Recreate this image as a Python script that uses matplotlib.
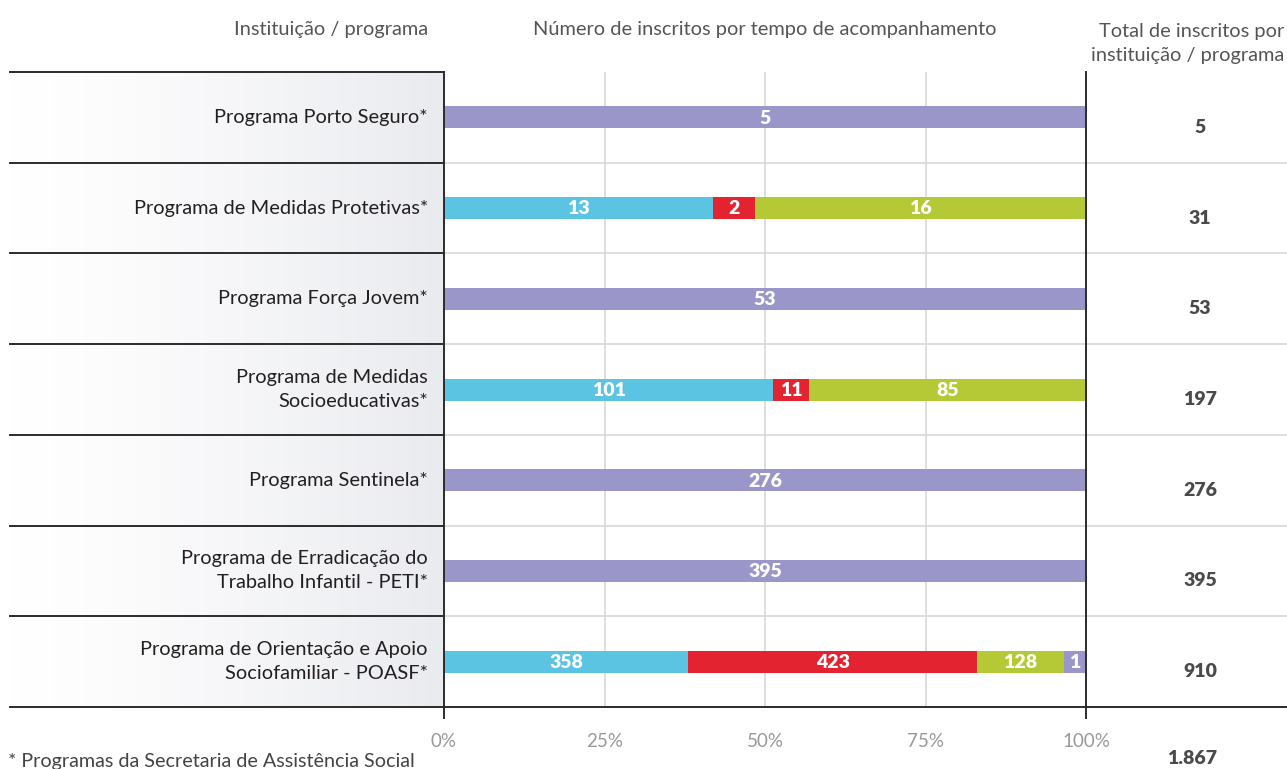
import numpy as np
import matplotlib
matplotlib.use("Agg")
import matplotlib.pyplot as plt

plt.rcParams['font.family'] = ['Lato', 'DejaVu Sans']

programs = [
    "Programa Porto Seguro*",
    "Programa de Medidas Protetivas*",
    "Programa Força Jovem*",
    "Programa de Medidas\nSocioeducativas*",
    "Programa Sentinela*",
    "Programa de Erradicação do\nTrabalho Infantil - PETI*",
    "Programa de Orientação e Apoio\nSociofamiliar - POASF*",
]
seg_cyan = [0, 13, 0, 101, 0, 0, 358]
seg_red = [0, 2, 0, 11, 0, 0, 423]
seg_green = [0, 16, 0, 85, 0, 0, 128]
seg_purple = [5, 0, 53, 0, 276, 395, 1]
totals = [5, 31, 53, 197, 276, 395, 910]
grand_total = "1.867"
tick_vals = [0, 0.25, 0.5, 0.75, 1.0]
tick_labels = ["0%", "25%", "50%", "75%", "100%"]

colors = ["#5bc4e2", "#e42330", "#b4c935", "#9b96c9"]
MIN_SHARE = 0.034

W, H = 1287, 769
fig = plt.figure(figsize=(W / 100, H / 100), dpi=100)
L, R, T, B = 444, 1086, 72, 707
ax = fig.add_axes([L / W, 1 - B / H, (R - L) / W, (B - T) / H])
n = len(programs)
ax.set_xlim(0, 1)
ax.set_ylim(n - 0.5, -0.5)
for s in ax.spines.values():
    s.set_visible(False)
ax.set_yticks([])

def px2x(px):
    return (px - L) / (R - L)

xl, xr = px2x(10), px2x(1287)

# left gradient panel
grad = np.linspace(0, 1, 256)[None, :] ** 1.3
c0 = np.array([1.0, 1.0, 1.0])
c1 = np.array([0xea, 0xeb, 0xef]) / 255
img = c0[None, None, :] * (1 - grad[..., None]) + c1[None, None, :] * grad[..., None]
ax.imshow(img, extent=[xl, 0, n - 0.5, -0.5], aspect='auto', clip_on=False, zorder=0)

# grid lines
for v in tick_vals[1:-1]:
    ax.plot([v, v], [-0.5, n - 0.5], color="#d8d8d8", lw=1.2, zorder=1)
for i in range(n + 1):
    yb = i - 0.5
    ax.plot([xl, 0], [yb, yb], color="#2b2b2b", lw=1.4, clip_on=False, zorder=3)
    if 0 < i < n:
        ax.plot([0, xr], [yb, yb], color="#d8d8d8", lw=1.2, clip_on=False, zorder=1)
ax.plot([0, xr], [n - 0.5, n - 0.5], color="#2b2b2b", lw=1.4, clip_on=False, zorder=3)
ext = n - 0.5 + 11 / ((B - T) / n)
for xv in (0, 1):
    ax.plot([xv, xv], [-0.5, ext], color="#2b2b2b", lw=1.4, clip_on=False, zorder=4)

# bars
segs = np.array([seg_cyan, seg_red, seg_green, seg_purple], dtype=float).T
bh = 22 / ((B - T) / n)
for i in range(n):
    vals = segs[i]
    tot = vals.sum()
    share = vals / tot
    small = (share > 0) & (share < MIN_SHARE)
    if small.any():
        share = np.where(small, MIN_SHARE, share)
        rest = 1 - share[small].sum()
        big = ~small & (vals > 0)
        share[big] = rest * vals[big] / vals[big].sum()
    left = 0
    for j in range(4):
        if vals[j] <= 0:
            continue
        ax.barh(i, share[j], left=left, height=bh, color=colors[j], zorder=2, linewidth=0)
        ax.text(left + share[j] / 2, i + 0.01, f"{int(vals[j])}", ha='center', va='center',
                color='white', fontsize=14, fontweight='heavy', zorder=5)
        left += share[j]
    ax.text(px2x(428), i, programs[i], ha='right', va='center', fontsize=14.4,
            color="#231f20", linespacing=1.5, clip_on=False)
    ax.text(px2x(1200), i + 0.11, f"{totals[i]}", ha='center', va='center', fontsize=14,
            fontweight='heavy', color="#4a4a4a", clip_on=False)

ax.set_xticks(tick_vals)
ax.set_xticklabels(tick_labels, fontsize=13.5, color="#999999")
ax.tick_params(axis='x', length=0, pad=19)

# headers
fig.text(428 / W, 1 - 30 / H, "Instituição / programa", ha='right', va='center', fontsize=14.4, color="#555555")
fig.text(765 / W, 1 - 30 / H, "Número de inscritos por tempo de acompanhamento", ha='center', va='center',
         fontsize=14.4, color="#555555")
fig.text(1284 / W, 1 - 43 / H, "Total de inscritos por\ninstituição / programa", ha='right', va='center',
         fontsize=14.4, color="#555555", linespacing=1.5)
fig.text(8 / W, 1 - 761 / H, "* Programas da Secretaria de Assistência Social", ha='left', va='center',
         fontsize=14.2, color="#444444")
fig.text(1192 / W, 1 - 759 / H, grand_total, ha='center', va='center', fontsize=14, fontweight='heavy',
         color="#4a4a4a")

fig.savefig("out.png", dpi=100)
